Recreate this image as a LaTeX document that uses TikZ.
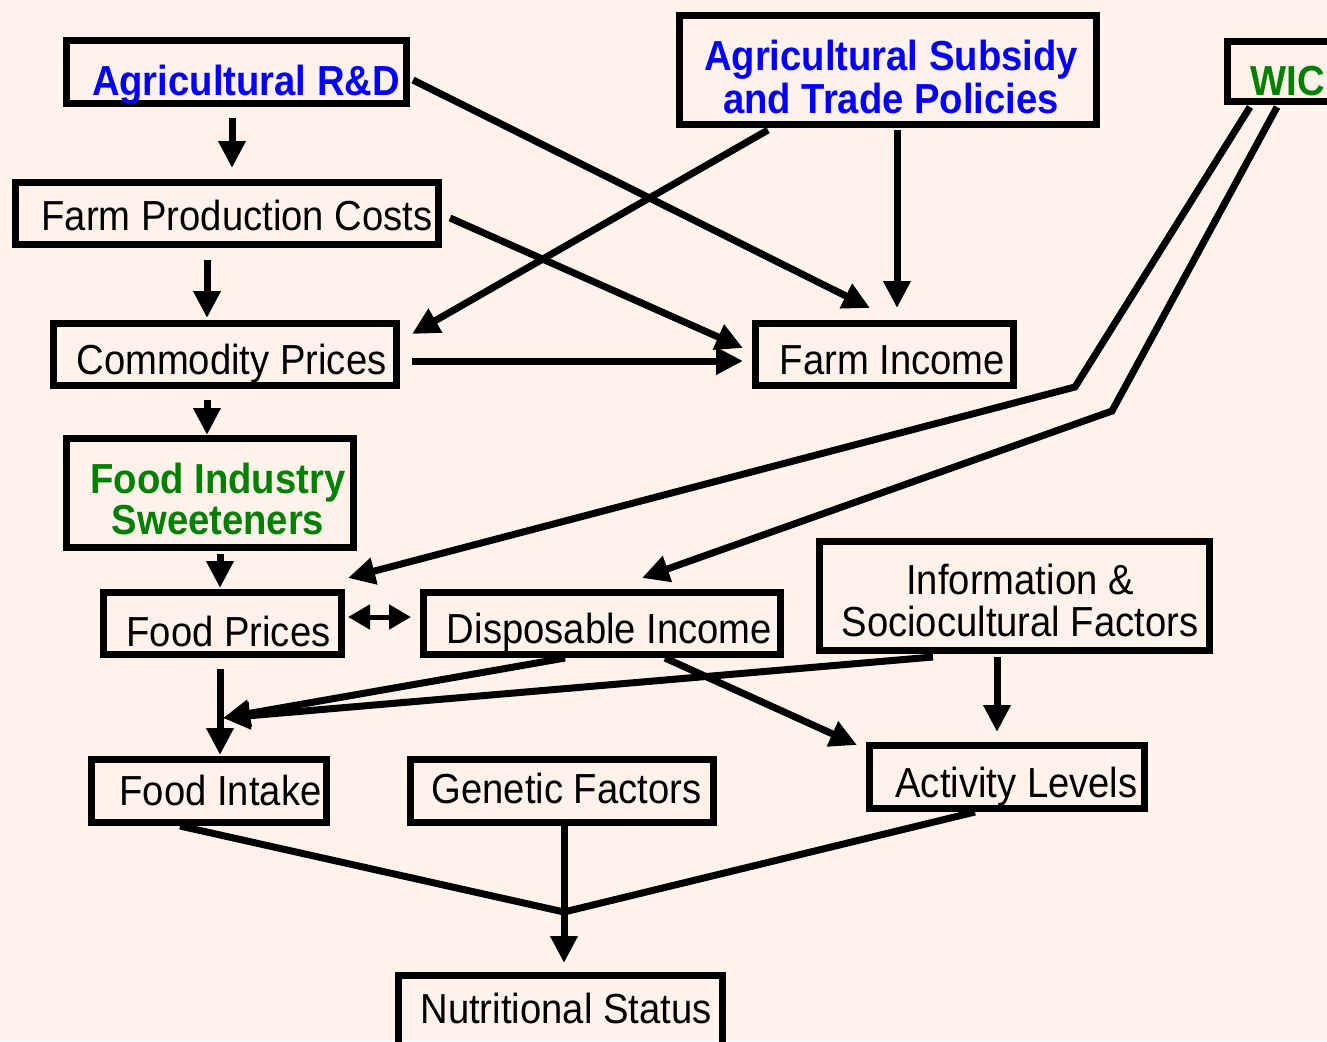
\documentclass[tikz,border=0pt]{standalone}
\usepackage{fontspec}
\setmainfont{Liberation Sans}[FakeStretch=0.91]
\usetikzlibrary{arrows.meta,calc}
\definecolor{bg}{RGB}{255,242,234}
\definecolor{tblue}{RGB}{0,0,255}
\definecolor{tgreen}{RGB}{0,128,0}
\newcommand\tx[3]{\makebox[0pt]{\kern#1pt\raisebox{-#2pt}[0pt][0pt]{#3}\kern-#1pt}}
\newcommand\twolines[2]{\begin{tabular}[t]{@{}c@{}}#1\\#2\end{tabular}}
\begin{document}
\begin{tikzpicture}[x=1pt,y=-1pt,
  box/.style={draw=black, line width=7pt, inner sep=0pt, rectangle, font=\fontsize{42}{41}\selectfont},
  arr/.style={line width=7pt, -{Triangle[width=26pt,length=27pt]}},
  dbl/.style={line width=5pt, {Triangle[width=24pt,length=22pt]}-{Triangle[width=24pt,length=22pt]}},
  ln/.style={line width=7pt},
  bluetxt/.style={text=tblue},
  greentxt/.style={text=tgreen}]
\clip (0,0) rectangle (1327,1041);
\fill[bg] (0,0) rectangle (1327,1041);

% nodes
\node[box, bluetxt, minimum width=340pt, minimum height=63pt] (agrd) at (236.5,72) {\tx{9.5}{23}{\bfseries Agricultural R\&D}};
\node[box, bluetxt, minimum width=417pt, minimum height=109pt] (subs) at (888,70) {\tx{3}{1}{\bfseries\twolines{Agricultural Subsidy}{and Trade Policies}}};
\node[box, greentxt, minimum width=169pt, minimum height=60pt] (wic) at (1312,71.5) {\tx{-24}{23.5}{\bfseries WIC}};
\node[box, minimum width=423pt, minimum height=62pt] (fpc) at (227,213.5) {\tx{10}{16.5}{Farm Production Costs}};
\node[box, minimum width=343pt, minimum height=62pt] (cp) at (225,354.5) {\tx{6.5}{19.5}{Commodity Prices}};
\node[box, minimum width=258pt, minimum height=62pt] (fi) at (884.5,354.5) {\tx{8}{19.5}{Farm Income}};
\node[box, greentxt, minimum width=287pt, minimum height=109pt] (fis) at (210,493) {\tx{8}{0}{\bfseries\twolines{Food Industry}{Sweeteners}}};
\node[box, minimum width=238pt, minimum height=62pt] (fp) at (222.5,623.5) {\tx{6}{22.5}{Food Prices}};
\node[box, minimum width=357pt, minimum height=62pt] (di) at (602,623.5) {\tx{7.5}{19.5}{Disposable Income}};
\node[box, minimum width=390pt, minimum height=109pt] (info) at (1014.5,596) {\tx{5.5}{-2}{\twolines{Information \&}{Sociocultural Factors}}};
\node[box, minimum width=275pt, minimum height=63pt] (act) at (1007,777) {\tx{9.5}{20}{Activity Levels}};
\node[box, minimum width=235pt, minimum height=63pt] (fintake) at (209,791) {\tx{11.5}{14}{Food Intake}};
\node[box, minimum width=303pt, minimum height=63pt] (gen) at (562,791) {\tx{4.5}{12}{Genetic Factors}};
\node[box, minimum width=324pt, minimum height=71pt] (ns) at (560.5,1011) {\tx{5.5}{12}{Nutritional Status}};

% connectors
\draw[arr] ($(agrd.south)+(-4.5,11)$) -- ($(fpc.north)+(5,-11)$);
\draw[arr] ($(agrd.east)+(3,8)$) -- ($(fi.north)+(-14.5,-12)$);
\draw[arr] ($(subs.south)+(-120,2)$) -- ($(cp.east)+(12,-20.5)$);
\draw[arr] ($(subs.south)+(9,2)$) -- ($(fi.north)+(12.5,-12)$);
\draw[arr] ($(fpc.east)+(8,4.5)$) -- ($(fi.west)+(-9,-6.5)$);
\draw[arr] ($(fpc.south)+(-20,12)$) -- ($(cp.north)+(-18,-2)$);
\draw[arr] ($(cp.east)+(12,6.5)$) -- ($(fi.west)+(-9,6.5)$);
\draw[arr] ($(cp.south)+(-18,11)$) -- ($(fis.north)+(-3,0)$);
\coordinate (w1) at (1075,387);
\coordinate (w2) at (1112,411);
\draw[arr] ($(wic.south west)+(26,2)$) -- (w1) -- ($(fp.north east)+(3,-11)$);
\draw[arr] ($(wic.south west)+(53,2)$) -- (w2) -- ($(di.north)+(40,-11)$);
\draw[arr] ($(fis.south)+(10,3)$) -- ($(fp.north)+(-2.5,-1)$);
\draw[dbl] ($(fp.east)+(3,-6.5)$) -- ($(di.west)+(-9,-6.5)$);
\draw[arr] ($(fp.south)+(-2.5,11)$) -- ($(fintake.north)+(11,-1)$);
\coordinate (j1) at (223,718);
\draw[arr] ($(di.south)+(-37,0)$) -- (j1);
\draw[arr] ($(info.south)+(-81.5,3)$) -- (j1);
\draw[arr] ($(di.south)+(63,0)$) -- ($(act.north west)+(-9,3)$);
\draw[arr] ($(info.south)+(-17.5,3)$) -- ($(act.north)+(-10,-10)$);
\coordinate (j2) at (564,912);
\draw[ln] ($(fintake.south)+(-29,0)$) -- (j2) -- ($(act.south)+(-32,0)$);
\draw[arr] ($(gen.south)+(2,0)$) -- ($(ns.north)+(3.5,-9)$);
\end{tikzpicture}
\end{document}
